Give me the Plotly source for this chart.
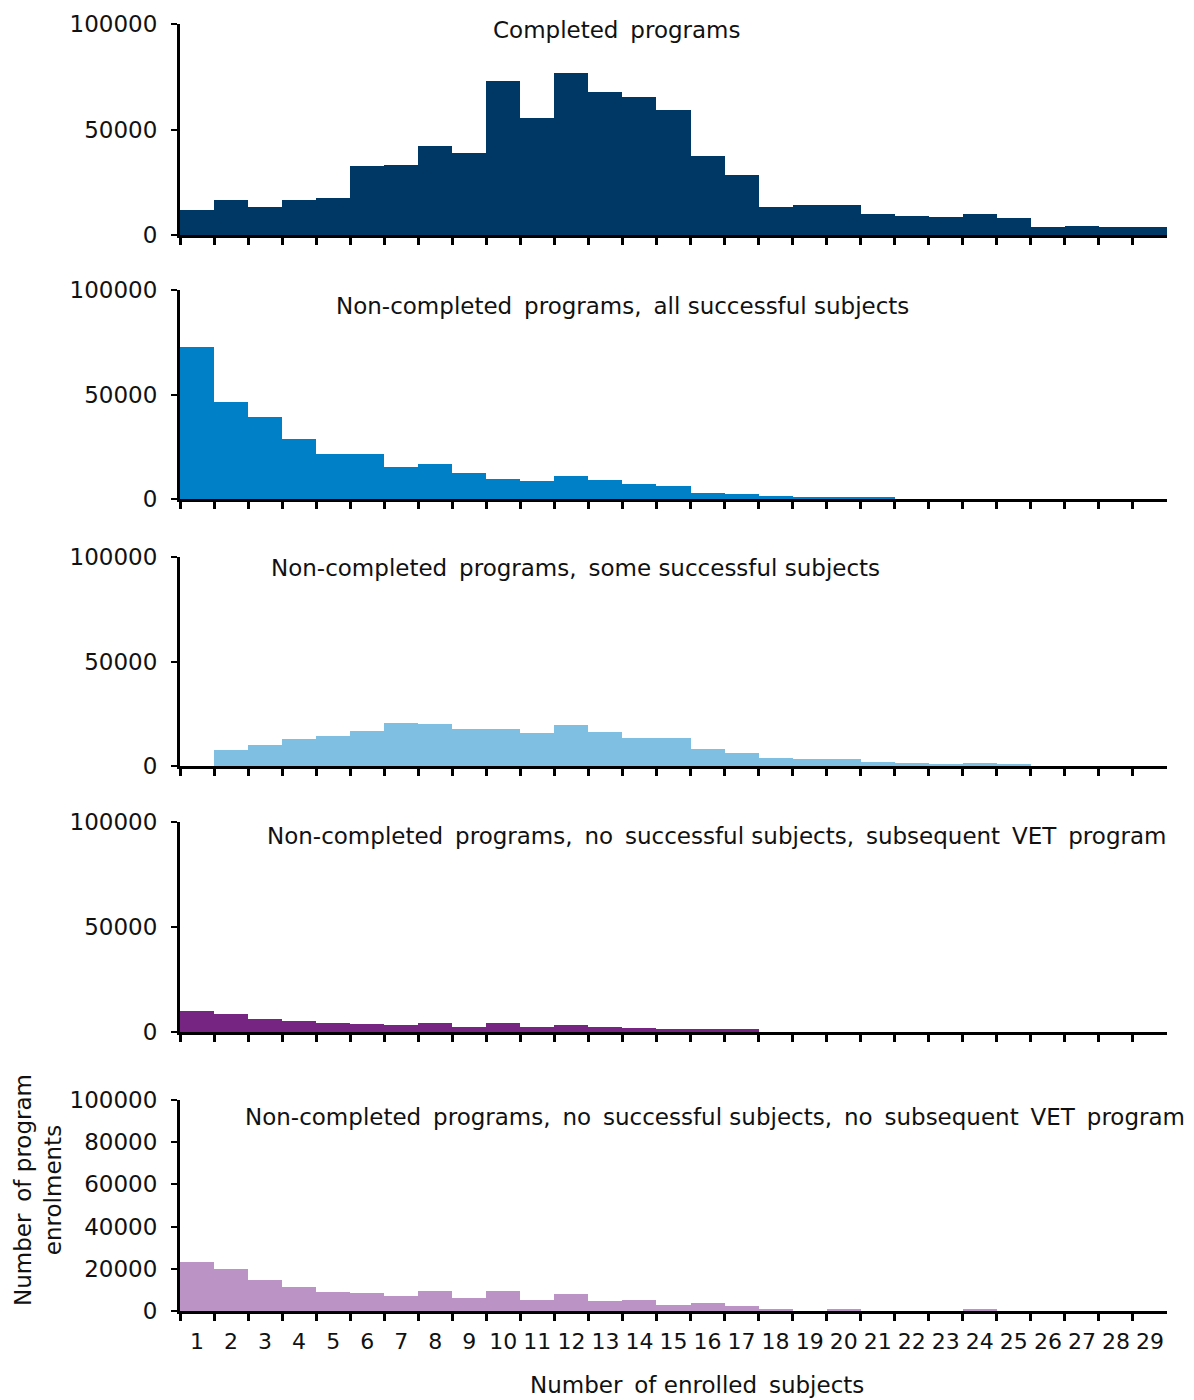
import plotly.graph_objects as go

categories = [str(i) for i in range(1, 30)]

completed = [12000, 16500, 13300, 16500, 17600, 32500, 33000, 42200, 39000, 73200,
             55600, 77000, 67800, 65200, 59200, 37300, 28300, 13300, 14300, 14300,
             10000, 9200, 8600, 10000, 8100, 3700, 4300, 3700, 3700]
all_successful = [72500, 46600, 39400, 28800, 21400, 21400, 15200, 16600, 12300, 9800,
                  8500, 11000, 9100, 7400, 6100, 3000, 2400, 1300, 1100, 600,
                  600, 0, 0, 0, 0, 0, 0, 0, 0]
some_successful = [0, 7500, 9900, 13100, 14300, 16800, 20500, 19900, 17500, 17500,
                   15700, 19400, 16200, 13600, 13600, 8200, 6400, 3800, 3200, 3200,
                   2100, 1400, 800, 1400, 800, 0, 0, 0, 0]
none_subsequent = [10000, 8700, 6200, 5100, 4400, 3800, 3200, 4400, 2500, 4400,
                   2500, 3200, 2500, 1900, 1300, 1300, 1300, 0, 0, 0,
                   0, 0, 0, 0, 0, 0, 0, 0, 0]
none_no_subsequent = [23100, 19900, 14600, 11600, 9200, 8500, 7300, 9700, 6000, 9700,
                      5400, 7900, 4900, 5400, 3000, 3600, 2400, 600, 0, 600,
                      0, 0, 0, 600, 0, 0, 0, 0, 0]

WS = " \u2009"  # wider word gap, as in the original typesetting
panel_titles = [
    f"Completed{WS}programs",
    f"Non-completed{WS}programs,{WS}all successful subjects",
    f"Non-completed{WS}programs,{WS}some successful subjects",
    f"Non-completed{WS}programs,{WS}no{WS}successful subjects,{WS}subsequent{WS}VET{WS}program",
    f"Non-completed{WS}programs,{WS}no{WS}successful subjects,{WS}no{WS}subsequent{WS}VET{WS}program",
]
series = [completed, all_successful, some_successful, none_subsequent, none_no_subsequent]
colors = ["#003865", "#0080C6", "#7FBFE2", "#772583", "#BC93C5"]

OFF = 8  # page body margin
W, H = 1194 - OFF, 1400 - OFF
x_left, x_right = 180 - OFF, 1167 - OFF
# (top pixel, bottom pixel) of each panel in window coordinates
panels_px = [(24, 235), (290, 499), (557, 766), (822, 1032), (1100, 1311)]
title_px = [(617, 30), (622, 306), (575, 568), (717, 836), (715, 1117)]

FONT = "DejaVu Sans, Verdana, sans-serif"
fig = go.Figure()
annotations = []

for i, (vals, col) in enumerate(zip(series, colors)):
    n = i + 1
    xa = "x" if n == 1 else f"x{n}"
    ya = "y" if n == 1 else f"y{n}"
    fig.add_trace(go.Bar(x=categories, y=vals, marker=dict(color=col, line=dict(width=0)),
                         xaxis=xa, yaxis=ya, showlegend=False))
    top, bot = panels_px[i]
    top, bot = top - OFF, bot - OFF
    last = (n == 5)
    xkey = "xaxis" if n == 1 else f"xaxis{n}"
    ykey = "yaxis" if n == 1 else f"yaxis{n}"
    fig.update_layout(**{
        xkey: dict(domain=[x_left / W, x_right / W], anchor=ya, type="category",
                   categoryorder="array", categoryarray=categories,
                   range=[-0.5, 28.5], tickson="boundaries", ticks="outside",
                   ticklen=7, tickwidth=3, tickcolor="black", tickangle=0,
                   ticklabelstandoff=9,
                   showline=True, linecolor="black", linewidth=3,
                   showgrid=False, zeroline=False, showticklabels=last,
                   tickfont=dict(family=FONT, size=22, color="#111"),
                   automargin=False, fixedrange=True),
        ykey: dict(domain=[1 - bot / H, 1 - top / H], anchor=xa, range=[0, 100000],
                   tickmode="array", tickformat="d",
                   tickvals=[0, 20000, 40000, 60000, 80000, 100000] if last else [0, 50000, 100000],
                   ticks="outside", ticklen=6, tickwidth=2, tickcolor="black",
                   ticklabelstandoff=9,
                   showline=True, linecolor="black", linewidth=3,
                   showgrid=False, zeroline=False,
                   tickfont=dict(family=FONT, size=23, color="#111"),
                   automargin=False, fixedrange=True),
    })
    tx, ty = title_px[i]
    annotations.append(dict(text=panel_titles[i], x=(tx - OFF) / W, y=1 - (ty - OFF) / H,
                            xref="paper", yref="paper",
                            xanchor="center", yanchor="middle", showarrow=False,
                            font=dict(family=FONT, size=23, color="#111")))

annotations.append(dict(text=f"Number{WS}of enrolled{WS}subjects", x=(697 - OFF) / W, y=1 - (1385 - OFF) / H,
                        xref="paper", yref="paper", xanchor="center", yanchor="middle",
                        showarrow=False, font=dict(family=FONT, size=23, color="#111")))
annotations.append(dict(text=f"Number{WS}of program<br>enrolments", x=(38 - OFF) / W, y=1 - (1190 - OFF) / H,
                        xref="paper", yref="paper", xanchor="center", yanchor="middle",
                        textangle=-90, showarrow=False,
                        font=dict(family=FONT, size=23, color="#111")))

fig.update_layout(width=W, height=H, margin=dict(l=0, r=0, t=0, b=0),
                  paper_bgcolor="white", plot_bgcolor="white", bargap=0,
                  annotations=annotations)

fig.write_html("out.html")
